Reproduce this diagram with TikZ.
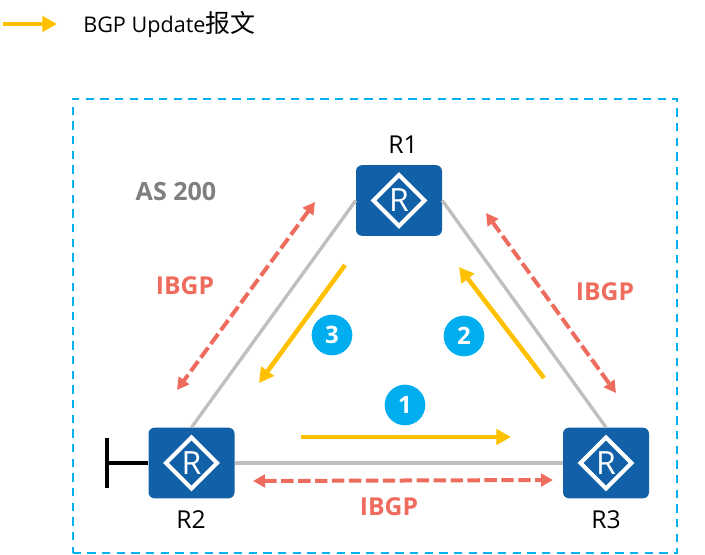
\documentclass[tikz,border=0pt]{standalone}
\usepackage{fontspec}
\setmainfont{Open Sans}
\newfontfamily\cjk{Noto Sans CJK SC}
\usetikzlibrary{arrows.meta}
\definecolor{routerblue}{HTML}{1160A8}
\definecolor{linegray}{HTML}{BFBFBF}
\definecolor{ibgpred}{HTML}{EE6C5E}
\definecolor{updateyellow}{HTML}{FFC000}
\definecolor{asblue}{HTML}{00B0F0}
\definecolor{asgray}{HTML}{7F7F7F}
\definecolor{badgeblue}{HTML}{00AEEF}
\tikzset{
  x=0.75pt,y=-0.75pt,
  router/.style={minimum width=64.5pt,minimum height=53pt,inner sep=0pt,draw=none,fill=routerblue,rounded corners=4.5pt,
    path picture={
      \draw[white,line width=3pt,sharp corners,miter limit=10] (path picture bounding box.center) +(-25.5,0) -- +(0,-25.5) -- +(25.5,0) -- +(0,25.5) -- cycle;
      \node[white,font=\fontsize{24}{24}\selectfont,sharp corners] at (path picture bounding box.center) {R};
    }},
  wire/.style={linegray,line width=2.5pt},
  stub/.style={black,line width=2.6pt},
  update/.style={updateyellow,line width=3.4pt,-{Triangle[length=11pt,width=11.5pt]}},
  ibgp/.style={ibgpred,line width=3pt,dash pattern=on 9.3pt off 3.4pt,{Triangle[length=9pt,width=9.5pt]}-{Triangle[length=9pt,width=9.5pt]}},
  badge/.style={circle,fill=badgeblue,text=white,minimum size=30.5pt,inner sep=0pt,font=\fontsize{18}{18}\selectfont\bfseries},
  ibgptext/.style={ibgpred,font=\fontsize{18.5}{20}\selectfont\bfseries},
  rname/.style={black,font=\fontsize{18.5}{20}\selectfont},
}
\begin{document}
\begin{tikzpicture}
\useasboundingbox (0,0) rectangle (705,555);
\node[draw=asblue,line width=1.6pt,dash pattern=on 6.2pt off 4.8pt,minimum width=453.5pt,minimum height=341pt,inner sep=0pt] (asbox) at (375,326) {};
\node[router] (r1) at (399,200.5) {};
\node[router] (r2) at (191.5,463) {};
\node[router] (r3) at (606,463) {};
\draw[wire] (r1.west) -- (r2.north);
\draw[wire] (r1.east) -- (r3.north);
\draw[wire] (r2.east) -- (r3.west);
\coordinate (stubtop) at (107,438);
\coordinate (stubbot) at (107,488);
\coordinate (stubmid) at (107,463);
\draw[stub] (stubtop) -- (stubbot);
\draw[stub] (stubmid) -- (r2.west);
\coordinate (legA) at (3,24);
\coordinate (legB) at (57,24);
\draw[update] (legA) -- (legB);
\node[anchor=west,inner sep=0pt,font=\fontsize{16.2}{18}\selectfont] (legtext) at (83,25) {BGP Update{\fontsize{18.7}{18}\selectfont\cjk 报文}};
\coordinate (u1a) at (301,437);
\coordinate (u1b) at (511,437);
\coordinate (u2a) at (544,378);
\coordinate (u2b) at (459,267);
\coordinate (u3a) at (345,265);
\coordinate (u3b) at (259,383);
\draw[update] (u1a) -- (u1b);
\draw[update] (u2a) -- (u2b);
\draw[update] (u3a) -- (u3b);
\coordinate (i1a) at (315,202);
\coordinate (i1b) at (177,390);
\coordinate (i2a) at (486,213);
\coordinate (i2b) at (616,393);
\coordinate (i3a) at (253,481);
\coordinate (i3b) at (553,480);
\draw[ibgp] (i1a) -- (i1b);
\draw[ibgp] (i2a) -- (i2b);
\draw[ibgp] (i3a) -- (i3b);
\node[badge] (b1) at (405,405) {1};
\node[badge] (b2) at (464,336) {2};
\node[badge] (b3) at (332,335) {3};
\node[asgray,font=\fontsize{18.8}{20}\selectfont\bfseries] (as) at (176,192) {AS 200};
\node[ibgptext] (t1) at (185,286) {IBGP};
\node[ibgptext] (t2) at (605,292) {IBGP};
\node[ibgptext] (t3) at (389,507) {IBGP};
\node[rname] (n1) at (403,145) {R1};
\node[rname] (n2) at (191,520) {R2};
\node[rname] (n3) at (606,520) {R3};
\end{tikzpicture}
\end{document}
